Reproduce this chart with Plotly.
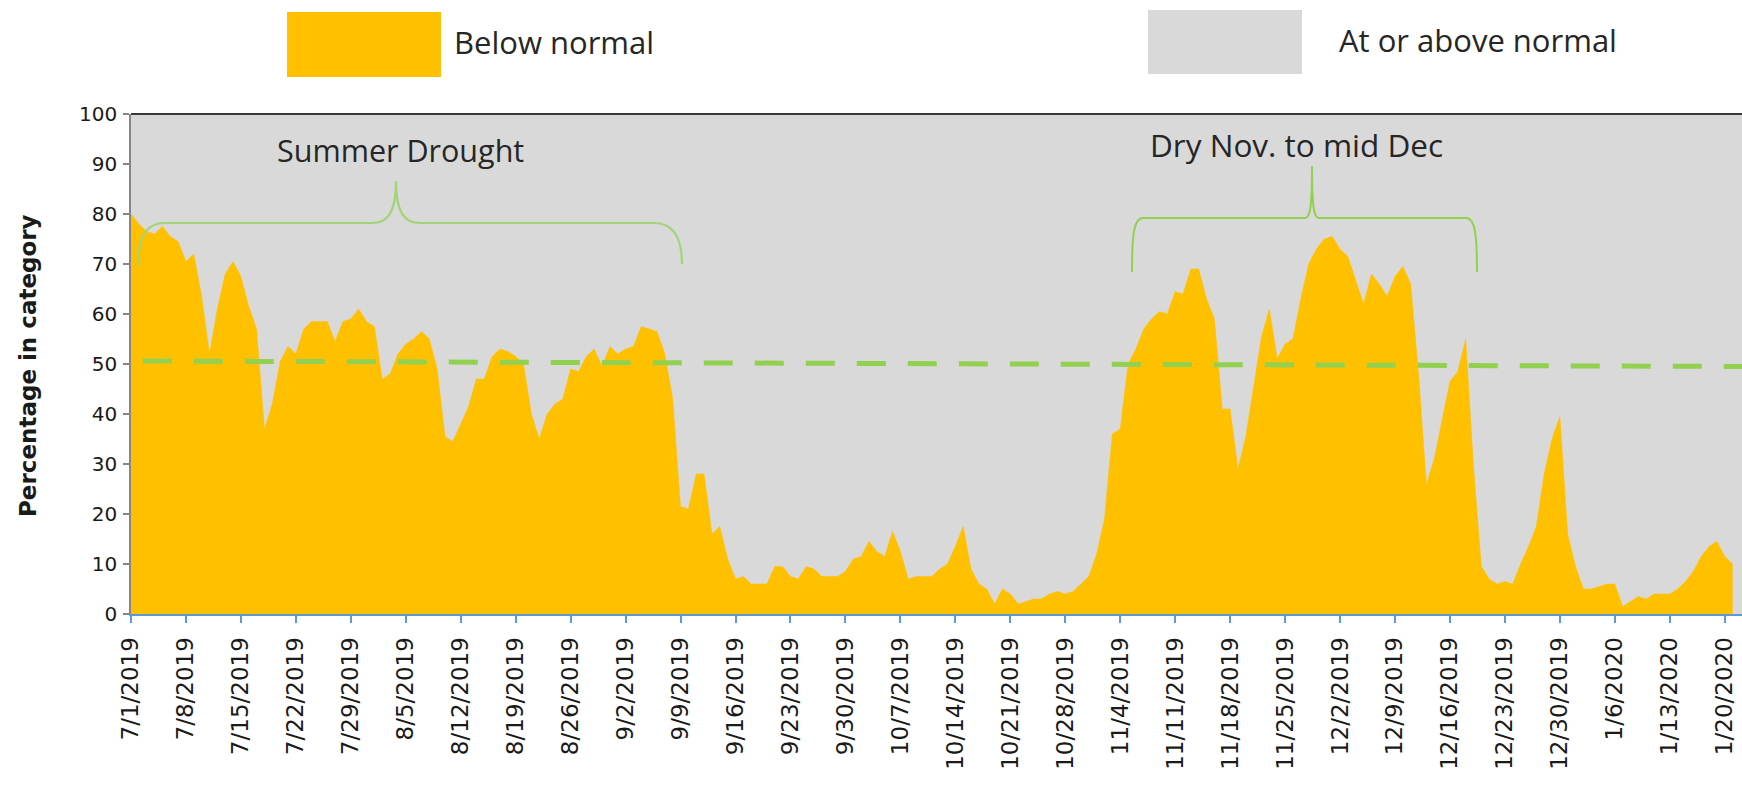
import plotly.graph_objects as go
import pandas as pd

# ---------------- data ----------------
start_date = "2019-07-01"
below_normal = [
    80, 78, 76.5, 76, 77.5, 75.5, 74.5, 70.5, 72, 63.5,
    52, 61, 68, 70.5, 67.5, 61.5, 57, 37, 42, 50.5,
    53.5, 52, 57, 58.5, 58.5, 58.5, 54.5, 58.5, 59, 61,
    58.5, 57.5, 47, 48, 52, 54, 55, 56.5, 55, 49,
    35.5, 34.5, 38, 41.5, 47, 47, 51.5, 53, 52.5, 51.5,
    50, 40, 35, 40, 42, 43, 49, 48.5, 51.5, 53,
    49.5, 53.5, 52, 53, 53.5, 57.5, 57, 56.5, 52, 43,
    21.5, 21, 28, 28, 16, 17.5, 11, 7, 7.5, 6,
    6, 6, 9.5, 9.5, 7.5, 7, 9.5, 9, 7.5, 7.5,
    7.5, 8.5, 11, 11.5, 14.5, 12.5, 11.5, 16.5, 12.5, 7,
    7.5, 7.5, 7.5, 9, 10, 13.5, 17.5, 9, 6, 5,
    2, 5, 4, 2, 2.5, 3, 3, 4, 4.5, 4,
    4.5, 6, 7.5, 12, 19, 36, 37, 50, 53, 57,
    59, 60.5, 60, 64.5, 64, 69, 69, 63, 59, 41,
    41, 29, 35.5, 45.5, 55.5, 61, 51, 54, 55, 63,
    70, 73, 75, 75.5, 73, 71.5, 66.5, 62, 68, 66,
    63.5, 67.5, 69.5, 66, 48, 26, 31, 39, 46.5, 48.5,
    55, 29.5, 9.5, 7, 6, 6.5, 6, 10, 13.5, 17.5,
    28, 35, 39.5, 16, 9.5, 5, 5, 5.5, 6, 6,
    1.5, 2.5, 3.5, 3, 4, 4, 4, 5, 6.5, 8.5,
    11.5, 13.5, 14.5, 11.5, 10,
]
dates = pd.date_range(start_date, periods=len(below_normal), freq="D")

normal_dates = ["2019-07-02 12:00", "2020-01-23 00:00"]
normal_values = [50.6, 49.5]

tick_dates = pd.date_range("2019-07-01", "2020-01-20", freq="7D")
tick_labels = [f"{d.month}/{d.day}/{d.year}" for d in tick_dates]

legend_labels = ["Below normal", "At or above normal"]
bracket_labels = ["Summer Drought", "Dry Nov. to mid Dec"]

# ---------------- colours / geometry ----------------
ORANGE = "#FFC000"
GRAY = "#D9D9D9"
GREEN = "#92D050"
W, H = 1742, 792
L, T, R_EDGE, B_EDGE = 131, 114, 1742, 614


def px(x):
    return (x - L) / (R_EDGE - L)


def py(y):
    return (B_EDGE - y) / (B_EDGE - T)


def path(cmds):
    out = []
    for c in cmds:
        op = c[0]
        pts = c[1:]
        out.append(op + " " + " ".join(f"{px(a):.5f},{py(b):.5f}" for a, b in pts))
    return " ".join(out)


fig = go.Figure()

fig.add_trace(go.Scatter(
    x=dates, y=below_normal, mode="lines", fill="tozeroy",
    fillcolor=ORANGE, line=dict(color=ORANGE, width=0.5),
    name=legend_labels[0], hoverinfo="x+y",
))

fig.add_trace(go.Scatter(
    x=normal_dates, y=normal_values, mode="lines",
    line=dict(color=GREEN, width=5, dash="29px,22px"),
    name="Normal", hoverinfo="skip",
))

shapes = []
# top border
shapes.append(dict(type="line", xref="paper", yref="paper", x0=0, x1=1, y0=1, y1=1,
                   line=dict(color="#3A3A3A", width=2)))

# Summer bracket
summer = path([
    ("M", (138, 265)),
    ("C", (138, 238), (146, 223), (164, 223)),
    ("L", (372, 223)),
    ("C", (388, 223), (396, 212), (396, 181)),
    ("C", (396, 212), (404, 223), (420, 223)),
    ("L", (654, 223)),
    ("C", (674, 223), (682, 238), (682, 264)),
])
shapes.append(dict(type="path", xref="paper", yref="paper", path=summer,
                   line=dict(color="#A2D478", width=2.2)))

# Dry Nov bracket
dry = path([
    ("M", (1132, 272)),
    ("C", (1132, 234), (1134, 218), (1143, 218)),
    ("L", (1305, 218)),
    ("C", (1310, 218), (1312, 208), (1312, 166)),
    ("C", (1312, 208), (1314, 218), (1319, 218)),
    ("L", (1466, 218)),
    ("C", (1475, 218), (1477, 234), (1477, 272)),
])
shapes.append(dict(type="path", xref="paper", yref="paper", path=dry,
                   line=dict(color=GREEN, width=2)))

# legend swatches
shapes.append(dict(type="rect", xref="paper", yref="paper",
                   x0=px(287), x1=px(441), y0=py(77), y1=py(12),
                   fillcolor=ORANGE, line=dict(width=0)))
shapes.append(dict(type="rect", xref="paper", yref="paper",
                   x0=px(1148), x1=px(1302), y0=py(74), y1=py(10),
                   fillcolor=GRAY, line=dict(width=0)))

TXT = "#262626"
annotations = [
    dict(text=legend_labels[0], x=px(452), y=py(42), xref="paper", yref="paper",
         xanchor="left", yanchor="middle", showarrow=False,
         font=dict(family="Open Sans", size=31, color=TXT)),
    dict(text=legend_labels[1], x=px(1337), y=py(40), xref="paper", yref="paper",
         xanchor="left", yanchor="middle", showarrow=False,
         font=dict(family="Open Sans", size=31, color=TXT)),
    dict(text=bracket_labels[0], x=px(400), y=py(150), xref="paper", yref="paper",
         xanchor="center", yanchor="middle", showarrow=False,
         font=dict(family="Open Sans", size=30.5, color=TXT)),
    dict(text=bracket_labels[1], x=px(1296), y=py(144), xref="paper", yref="paper",
         xanchor="center", yanchor="middle", showarrow=False,
         font=dict(family="Open Sans", size=31.5, color=TXT)),
    dict(text="<b>Percentage in category</b>", x=px(28), y=py(366), xref="paper", yref="paper",
         xanchor="center", yanchor="middle", showarrow=False, textangle=-90,
         font=dict(family="DejaVu Sans", size=23, color="#1a1a1a")),
]

x_end = pd.Timestamp(start_date) + pd.Timedelta(days=205.2)

fig.update_layout(
    width=W, height=H,
    margin=dict(l=L, r=W - R_EDGE, t=T, b=H - B_EDGE, pad=0),
    paper_bgcolor="white", plot_bgcolor=GRAY,
    showlegend=False,
    shapes=shapes, annotations=annotations,
    xaxis=dict(
        type="date", range=[pd.Timestamp(start_date), x_end],
        tickmode="array", tickvals=list(tick_dates), ticktext=tick_labels,
        tickangle=-90, ticks="outside", ticklen=7, tickwidth=2, tickcolor="#5B9BD5",
        showline=True, linecolor="#5B9BD5", linewidth=2,
        showgrid=False, zeroline=False, automargin=False,
        tickfont=dict(family="DejaVu Sans", size=23, color="#1a1a1a"),
        ticklabelstandoff=5,
    ),
    yaxis=dict(
        range=[0, 100], tickmode="linear", tick0=0, dtick=10,
        ticks="outside", ticklen=6, tickwidth=1.5, tickcolor="#868686",
        showline=True, linecolor="#868686", linewidth=1.5,
        showgrid=False, zeroline=False, automargin=False,
        tickfont=dict(family="DejaVu Sans", size=20, color="#1a1a1a"),
        ticklabelstandoff=2,
    ),
)

fig.write_html(
    "out.html",
    config={"displayModeBar": False},
    post_script="document.body.style.margin='0';document.body.style.overflow='hidden';",
)
